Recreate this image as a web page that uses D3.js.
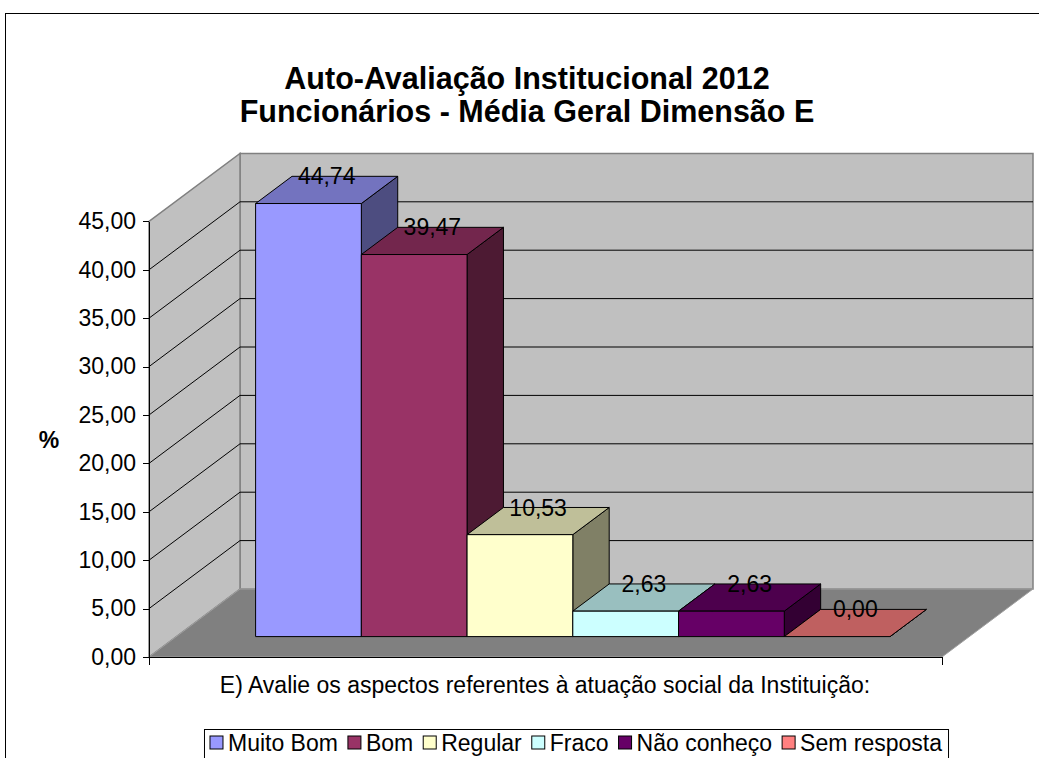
<!DOCTYPE html>
<meta charset="utf-8">
<style>
body { margin: 0; background: #fff; }
text { font-family: "Liberation Sans", Arial, sans-serif; fill: #000; }
.axis path, .axis line { stroke: #000; shape-rendering: crispEdges; }
</style>
<body>
<script src="https://d3js.org/d3.v7.min.js"></script>
<script>

var categories = ["Muito Bom", "Bom", "Regular", "Fraco", "Não conheço", "Sem resposta"];
var values = [44.74, 39.47, 10.53, 2.63, 2.63, 0.00];
var yTicks = [0, 5, 10, 15, 20, 25, 30, 35, 40, 45];
var titleLines = ["Auto-Avaliação Institucional 2012", "Funcionários - Média Geral Dimensão E"];
var xTitle = "E) Avalie os aspectos referentes à atuação social da Instituição:";
var yTitle = "%";

var frontColors = ["#9999ff", "#993366", "#ffffcc", "#ccffff", "#660066", "#ff8080"];
var topColors   = ["#7373bf", "#73264d", "#bfbf99", "#99bfbf", "#4d004d", "#bf6060"];
var sideColors  = ["#4d4d80", "#4d1a33", "#808066", "#668080", "#330033", "#804040"];

var width = 1039, height = 758;
var x0 = 149, x1 = 942, yFloor = 657, yTop = 221.4;
var DX = 91, DY = 68;
var fs = 23;

var fmt = function(v) { return v.toFixed(2).replace(".", ","); };

var svg = d3.select("body").append("svg")
    .attr("width", width)
    .attr("height", height);

// outer frame
svg.append("rect")
    .attr("x", 5.5).attr("y", 13.5)
    .attr("width", 1045).attr("height", 770)
    .attr("fill", "none").attr("stroke", "#000");

var y = d3.scaleLinear().domain([0, 45]).range([yFloor, yTop]);
var x = d3.scaleBand().domain(categories).range([x0, x1]).paddingInner(0).paddingOuter(0.75);
var bw = x.bandwidth();

function P(xv, v, z) { return [xv + z * DX, y(v) - z * DY]; }
function poly(pts) { return "M" + pts.map(function(p) { return p.join(","); }).join("L") + "Z"; }

var g = svg.append("g");

// walls and floor
g.append("path")
    .attr("d", poly([P(x0, 0, 1), P(x1, 0, 1), P(x1, 45, 1), P(x0, 45, 1)]))
    .attr("fill", "#c0c0c0").attr("stroke", "#808080").attr("stroke-width", 1.5);
g.append("path")
    .attr("d", poly([P(x0, 0, 0), P(x0, 0, 1), P(x0, 45, 1), P(x0, 45, 0)]))
    .attr("fill", "#c0c0c0").attr("stroke", "#808080").attr("stroke-width", 1.5);
g.append("path")
    .attr("d", poly([P(x0, 0, 0), P(x1, 0, 0), P(x1, 0, 1), P(x0, 0, 1)]))
    .attr("fill", "#808080").attr("stroke", "#a0a0a0");

// gridlines
g.selectAll(".grid")
    .data(yTicks.filter(function(t) { return t > 0 && t < 45; }))
    .enter().append("path")
      .attr("class", "grid")
      .attr("d", function(t) {
        var a = P(x0, t, 0), b = P(x0, t, 1), c = P(x1, t, 1);
        return "M" + a + "L" + b + "L" + c;
      })
      .attr("fill", "none").attr("stroke", "#000");

// axes
g.append("g")
    .attr("class", "axis")
    .attr("transform", "translate(" + x0 + ",0)")
    .call(d3.axisLeft(y).tickValues(yTicks).tickFormat(fmt).tickSize(6).tickSizeOuter(0).tickPadding(7))
    .call(function(a) { a.selectAll("text").attr("font-size", fs).attr("font-family", null); });

var xEdge = d3.scaleLinear().domain([0, 1]).range([x0, x1]);
g.append("g")
    .attr("class", "axis")
    .attr("transform", "translate(0," + yFloor + ")")
    .call(d3.axisBottom(xEdge).tickValues([]).tickSizeOuter(8));

// bars
var bars = g.selectAll(".bar")
    .data(categories.map(function(c, i) { return {cat: c, v: values[i], i: i}; }))
    .enter().append("g").attr("class", "bar");

var z0 = 0.3, z1 = 0.7;
bars.append("path")
    .attr("d", function(d) {
      var xr = x(d.cat) + bw;
      return poly([P(xr, 0, z0), P(xr, 0, z1), P(xr, d.v, z1), P(xr, d.v, z0)]);
    })
    .attr("fill", function(d) { return sideColors[d.i]; })
    .attr("stroke", "#000");
bars.append("path")
    .attr("d", function(d) {
      var xl = x(d.cat), xr = xl + bw;
      return poly([P(xl, d.v, z0), P(xr, d.v, z0), P(xr, d.v, z1), P(xl, d.v, z1)]);
    })
    .attr("fill", function(d) { return topColors[d.i]; })
    .attr("stroke", "#000");
bars.filter(function(d) { return d.v > 0; }).append("path")
    .attr("d", function(d) {
      var xl = x(d.cat), xr = xl + bw;
      return poly([P(xl, 0, z0), P(xr, 0, z0), P(xr, d.v, z0), P(xl, d.v, z0)]);
    })
    .attr("fill", function(d) { return frontColors[d.i]; })
    .attr("stroke", "#000");

// data labels
g.selectAll(".lbl")
    .data(categories.map(function(c, i) { return {cat: c, v: values[i]}; }))
    .enter().append("text")
      .attr("class", "lbl")
      .attr("x", function(d) { return P(x(d.cat) + bw / 2, d.v, 0.5)[0]; })
      .attr("y", function(d) { return P(0, d.v, z1)[1]; })
      .attr("dy", "0.35em")
      .attr("text-anchor", "middle")
      .attr("font-size", fs)
      .text(function(d) { return fmt(d.v); });

// titles
svg.selectAll(".title")
    .data(titleLines)
    .enter().append("text")
      .attr("class", "title")
      .attr("x", 527)
      .attr("y", function(d, i) { return 89 + i * 33; })
      .attr("text-anchor", "middle")
      .attr("font-size", 30.5)
      .attr("font-weight", "bold")
      .text(function(d) { return d; });

svg.append("text")
    .attr("x", 49).attr("y", 440).attr("dy", "0.35em")
    .attr("text-anchor", "middle")
    .attr("font-size", fs).attr("font-weight", "bold")
    .text(yTitle);

svg.append("text")
    .attr("x", 545).attr("y", 693)
    .attr("text-anchor", "middle")
    .attr("font-size", fs)
    .text(xTitle);

// legend
var leg = svg.append("g");
var legTop = 729, sw = 13, gapSw = 5, gapItem = 10, padL = 6;
var items = leg.selectAll(".item")
    .data(categories.map(function(c, i) { return {cat: c, i: i}; }))
    .enter().append("g").attr("class", "item");
items.append("rect")
    .attr("width", sw).attr("height", sw)
    .attr("fill", function(d) { return frontColors[d.i]; })
    .attr("stroke", "#000");
items.append("text")
    .attr("x", sw + gapSw).attr("y", sw / 2).attr("dy", "0.35em")
    .attr("font-size", fs)
    .text(function(d) { return d.cat; });

var cx = padL;
items.each(function() {
  var t = d3.select(this).select("text").node().getComputedTextLength();
  d3.select(this).attr("transform", "translate(" + cx + "," + (legTop + 7) + ")");
  cx += sw + gapSw + t + gapItem;
});
var legW = cx - gapItem + padL;
var legX = 576 - legW / 2;
leg.attr("transform", "translate(" + legX + ",0)");
leg.insert("rect", ":first-child")
    .attr("x", 0.5).attr("y", legTop + 0.5)
    .attr("width", legW).attr("height", 60)
    .attr("fill", "#fff").attr("stroke", "#000");

</script>
</body>
